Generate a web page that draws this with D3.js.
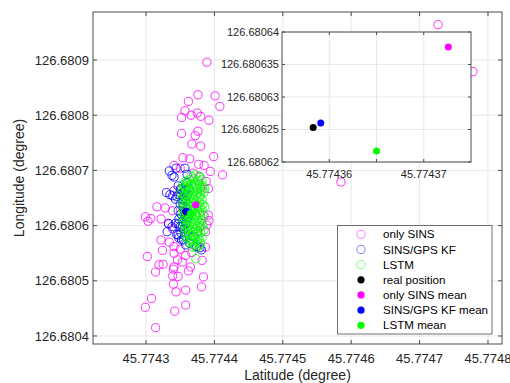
<!DOCTYPE html>
<html>
<head>
<meta charset="utf-8">
<script src="https://cdn.jsdelivr.net/npm/d3@7"></script>
<style>
  body { margin: 0; background: #fff; }
  svg { font-family: "Liberation Sans", Arial, sans-serif; }
</style>
</head>
<body>
<div id="chart"></div>
<script>
// only SINS position estimates [latitude, longitude]
const onlySINS = [
  [45.774389,126.680896],[45.774376,126.680837],[45.774401,126.680835],[45.774362,126.680825],
  [45.774408,126.680816],[45.774357,126.680808],[45.774375,126.680804],[45.774366,126.680800],
  [45.774380,126.680798],[45.774352,126.680796],[45.774392,126.680791],[45.774376,126.680771],
  [45.774352,126.680767],[45.774372,126.680763],[45.774367,126.680748],[45.774380,126.680744],
  [45.774399,126.680725],[45.774354,126.680723],[45.774364,126.680721],[45.774377,126.680711],
  [45.774385,126.680709],[45.774341,126.680709],[45.774394,126.680698],[45.774412,126.680692],
  [45.774350,126.680704],[45.774378,126.680689],[45.774388,126.680680],[45.774391,126.680667],
  [45.774341,126.680663],[45.774316,126.680634],[45.774328,126.680632],[45.774339,126.680627],
  [45.774303,126.680608],[45.774307,126.680613],[45.774322,126.680612],[45.774333,126.680603],
  [45.774339,126.680594],[45.774389,126.680601],[45.774392,126.680609],[45.774391,126.680619],
  [45.774385,126.680618],[45.774387,126.680589],[45.774322,126.680574],[45.774334,126.680570],
  [45.774324,126.680555],[45.774341,126.680562],[45.774350,126.680557],[45.774341,126.680550],
  [45.774358,126.680546],[45.774346,126.680538],[45.774367,126.680551],[45.774387,126.680561],
  [45.774302,126.680544],[45.774319,126.680529],[45.774325,126.680530],[45.774314,126.680516],
  [45.774341,126.680525],[45.774340,126.680521],[45.774365,126.680525],[45.774362,126.680518],
  [45.774347,126.680508],[45.774339,126.680509],[45.774382,126.680537],[45.774384,126.680507],
  [45.774381,126.680489],[45.774340,126.680494],[45.774344,126.680480],[45.774358,126.680483],
  [45.774308,126.680468],[45.774299,126.680452],[45.774358,126.680456],[45.774342,126.680445],
  [45.774314,126.680415],[45.774353,126.680534],[45.774369,126.680695],[45.774380,126.680668],
  [45.774299,126.680616],[45.774354,126.680647],[45.774376,126.680589],[45.774727,126.680964],
  [45.774585,126.680679],[45.774778,126.680879]
];

// SINS/GPS KF estimates
const sinsGpsKF = [
  [45.774334,126.680699],[45.774344,126.680704],[45.774338,126.680691],[45.774341,126.680688],
  [45.774357,126.680704],[45.774360,126.680693],[45.774360,126.680678],[45.774330,126.680660],
  [45.774335,126.680656],[45.774345,126.680653],[45.774339,126.680654],[45.774343,126.680648],
  [45.774331,126.680589],[45.774345,126.680584],[45.774358,126.680565],[45.774379,126.680560],
  [45.774352,126.680574],[45.774343,126.680604],[45.774369,126.680580],[45.774362,126.680668],
  [45.774347,126.680583],[45.774355,126.680574],[45.774374,126.680562],[45.774333,126.680604],
  [45.774338,126.680598],[45.774364,126.680568],[45.774381,126.680556],
  [45.774347,126.680672],[45.774351,126.680667],[45.774356,126.680661],[45.774348,126.680656],
  [45.774353,126.680648],[45.774358,126.680645],[45.774350,126.680639],[45.774354,126.680634],
  [45.774360,126.680630],[45.774347,126.680627],[45.774351,126.680621],[45.774357,126.680618],
  [45.774361,126.680614],[45.774348,126.680612],[45.774353,126.680607],[45.774358,126.680603],
  [45.774350,126.680598],[45.774356,126.680594],[45.774361,126.680590],[45.774351,126.680587],
  [45.774357,126.680581],[45.774348,126.680578],[45.774354,126.680641],[45.774360,126.680654],
  [45.774350,126.680665],[45.774356,126.680625],[45.774347,126.680603],[45.774363,126.680621],
  [45.774358,126.680665],[45.774353,126.680599]
];

// LSTM estimates
const lstm = [
  [45.774366,126.680690],[45.774373,126.680692],[45.774379,126.680688],[45.774358,126.680681],
  [45.774364,126.680683],[45.774370,126.680685],[45.774376,126.680681],[45.774382,126.680683],
  [45.774354,126.680674],[45.774360,126.680676],[45.774366,126.680677],[45.774372,126.680674],
  [45.774378,126.680676],[45.774383,126.680672],[45.774353,126.680667],[45.774358,126.680668],
  [45.774364,126.680665],[45.774370,126.680668],[45.774376,126.680667],[45.774382,126.680665],
  [45.774386,126.680668],[45.774351,126.680659],[45.774357,126.680657],[45.774363,126.680661],
  [45.774369,126.680657],[45.774375,126.680659],[45.774380,126.680656],[45.774385,126.680661],
  [45.774353,126.680650],[45.774358,126.680648],[45.774364,126.680652],[45.774370,126.680648],
  [45.774376,126.680650],[45.774382,126.680647],[45.774354,126.680641],[45.774360,126.680639],
  [45.774366,126.680643],[45.774372,126.680639],[45.774378,126.680641],[45.774383,126.680638],
  [45.774353,126.680632],[45.774358,126.680630],[45.774364,126.680634],[45.774370,126.680630],
  [45.774376,126.680632],[45.774382,126.680628],[45.774386,126.680634],[45.774354,126.680623],
  [45.774360,126.680621],[45.774366,126.680625],[45.774372,126.680621],[45.774378,126.680623],
  [45.774383,126.680619],[45.774353,126.680614],[45.774358,126.680612],[45.774364,126.680616],
  [45.774370,126.680612],[45.774376,126.680614],[45.774382,126.680610],[45.774354,126.680605],
  [45.774360,126.680603],[45.774366,126.680607],[45.774372,126.680603],[45.774378,126.680605],
  [45.774383,126.680601],[45.774356,126.680596],[45.774361,126.680594],[45.774367,126.680598],
  [45.774373,126.680594],[45.774379,126.680596],[45.774385,126.680592],[45.774357,126.680587],
  [45.774363,126.680585],[45.774369,126.680589],[45.774375,126.680585],[45.774380,126.680587],
  [45.774360,126.680578],[45.774366,126.680576],[45.774372,126.680580],[45.774378,126.680576],
  [45.774382,126.680578],[45.774363,126.680569],[45.774369,126.680567],[45.774375,126.680571],
  [45.774380,126.680567],[45.774367,126.680561],[45.774373,126.680560],[45.774373,126.680540],
  [45.774356,126.680670],[45.774361,126.680672],[45.774367,126.680674],[45.774373,126.680670],
  [45.774379,126.680672],[45.774356,126.680654],[45.774361,126.680656],[45.774367,126.680654],
  [45.774373,126.680654],[45.774379,126.680652],[45.774357,126.680636],[45.774363,126.680638],
  [45.774369,126.680636],[45.774375,126.680636],[45.774380,126.680634],[45.774356,126.680618],
  [45.774361,126.680619],[45.774367,126.680618],[45.774373,126.680618],[45.774379,126.680618],
  [45.774357,126.680599],[45.774363,126.680599],[45.774369,126.680601],[45.774375,126.680599],
  [45.774380,126.680599],[45.774358,126.680581],[45.774364,126.680581],[45.774370,126.680583],
  [45.774376,126.680581],[45.774366,126.680572],[45.774372,126.680565],[45.774378,126.680563]
];

const realPos = [45.7743583, 126.6806253];
const sinsMean = [45.7743726, 126.6806377];
const kfMean = [45.7743591, 126.6806260];
const lstmMean = [45.7743650, 126.6806217];

const mainXTicks = [45.7743, 45.7744, 45.7745, 45.7746, 45.7747, 45.7748];
const mainYTicks = [126.6804, 126.6805, 126.6806, 126.6807, 126.6808, 126.6809];
const insetXTicks = [45.77436, 45.774365, 45.77437];
const insetXLabels = ["45.77436", "", "45.77437"];
const insetYTicks = [126.68062, 126.680625, 126.68063, 126.680635, 126.68064];
const insetYLabels = ["126.68062", "126.680625", "126.68063", "126.680635", "126.68064"];

const legendItems = [
  { label: "only SINS", color: "#ff00ff", filled: false },
  { label: "SINS/GPS KF", color: "#0000ff", filled: false },
  { label: "LSTM", color: "#00ff00", filled: false },
  { label: "real position", color: "#000000", filled: true },
  { label: "only SINS mean", color: "#ff00ff", filled: true },
  { label: "SINS/GPS KF mean", color: "#0000ff", filled: true },
  { label: "LSTM mean", color: "#00ff00", filled: true }
];

const width = 510, height = 383;
const textColor = "#262626", axisColor = "#4d4d4d", gridColor = "#e8e8e8";

const svg = d3.select("#chart").append("svg")
  .attr("width", width).attr("height", height);

// main axes
const m = { left: 93, right: 502, top: 12, bottom: 344 };
const x = d3.scaleLinear().domain([45.7742225, 45.7748205]).range([m.left, m.right]);
const y = d3.scaleLinear().domain([126.6803855, 126.680987]).range([m.bottom, m.top]);

const grid = svg.append("g");
grid.selectAll("line.gx").data(mainXTicks).enter().append("line")
  .attr("x1", d => x(d)).attr("x2", d => x(d))
  .attr("y1", m.top).attr("y2", m.bottom)
  .attr("stroke", gridColor).attr("stroke-width", 1);
grid.selectAll("line.gy").data(mainYTicks).enter().append("line")
  .attr("x1", m.left).attr("x2", m.right)
  .attr("y1", d => y(d)).attr("y2", d => y(d))
  .attr("stroke", gridColor).attr("stroke-width", 1);

function drawFrame(g, xs, ys, box, xt, yt, tickLen) {
  g.append("rect")
    .attr("x", box.left).attr("y", box.top)
    .attr("width", box.right - box.left).attr("height", box.bottom - box.top)
    .attr("fill", "none").attr("stroke", axisColor).attr("stroke-width", 1);
  xt.forEach(t => {
    g.append("line").attr("x1", xs(t)).attr("x2", xs(t))
      .attr("y1", box.bottom).attr("y2", box.bottom - tickLen).attr("stroke", axisColor);
    g.append("line").attr("x1", xs(t)).attr("x2", xs(t))
      .attr("y1", box.top).attr("y2", box.top + tickLen).attr("stroke", axisColor);
  });
  yt.forEach(t => {
    g.append("line").attr("x1", box.left).attr("x2", box.left + tickLen)
      .attr("y1", ys(t)).attr("y2", ys(t)).attr("stroke", axisColor);
    g.append("line").attr("x1", box.right).attr("x2", box.right - tickLen)
      .attr("y1", ys(t)).attr("y2", ys(t)).attr("stroke", axisColor);
  });
}

const r = 4.1;
function openCircles(g, data, color, xs, ys) {
  g.selectAll(null).data(data).enter().append("circle")
    .attr("cx", d => xs(d[0])).attr("cy", d => ys(d[1]))
    .attr("r", r).attr("fill", "none")
    .attr("stroke", color).attr("stroke-width", 0.8);
}
function dot(g, p, color, xs, ys, rr) {
  g.append("circle").attr("cx", xs(p[0])).attr("cy", ys(p[1]))
    .attr("r", rr).attr("fill", color);
}

const plot = svg.append("g");
openCircles(plot, onlySINS, "#ff00ff", x, y);
openCircles(plot, sinsGpsKF, "#0000ff", x, y);
openCircles(plot, lstm, "#00ff00", x, y);
dot(plot, realPos, "#000000", x, y, 3.6);
dot(plot, sinsMean, "#ff00ff", x, y, 3.6);
dot(plot, kfMean, "#0000ff", x, y, 3.6);
dot(plot, lstmMean, "#00ff00", x, y, 3.6);

drawFrame(svg.append("g"), x, y, m, mainXTicks, mainYTicks, 4);

svg.append("g").selectAll("text").data(mainXTicks).enter().append("text")
  .attr("x", d => x(d)).attr("y", 363)
  .attr("text-anchor", "middle").attr("font-size", 13).attr("fill", textColor)
  .text(d => d3.format(".4f")(d));
svg.append("g").selectAll("text").data(mainYTicks).enter().append("text")
  .attr("x", 89).attr("y", d => y(d)).attr("dy", "0.35em")
  .attr("text-anchor", "end").attr("font-size", 13).attr("fill", textColor)
  .text(d => d3.format(".4f")(d));

svg.append("text").attr("x", (m.left + m.right) / 2).attr("y", 380)
  .attr("text-anchor", "middle").attr("font-size", 14).attr("fill", textColor)
  .text("Latitude (degree)");
svg.append("text")
  .attr("transform", `translate(24,${(m.top + m.bottom) / 2}) rotate(-90)`)
  .attr("text-anchor", "middle").attr("font-size", 14).attr("fill", textColor)
  .text("Longitude (degree)");

// inset (zoomed view of the means)
const n = { left: 282, right: 471, top: 32, bottom: 162 };
const xi = d3.scaleLinear().domain([45.774355, 45.774375]).range([n.left, n.right]);
const yi = d3.scaleLinear().domain([126.68062, 126.68064]).range([n.bottom, n.top]);
const inset = svg.append("g");
inset.append("rect").attr("x", n.left).attr("y", n.top)
  .attr("width", n.right - n.left).attr("height", n.bottom - n.top).attr("fill", "#fff");
inset.selectAll("line.gx").data(insetXTicks).enter().append("line")
  .attr("x1", d => xi(d)).attr("x2", d => xi(d))
  .attr("y1", n.top).attr("y2", n.bottom).attr("stroke", gridColor);
inset.selectAll("line.gy").data(insetYTicks).enter().append("line")
  .attr("x1", n.left).attr("x2", n.right)
  .attr("y1", d => yi(d)).attr("y2", d => yi(d)).attr("stroke", gridColor);
dot(inset, realPos, "#000000", xi, yi, 3.5);
dot(inset, sinsMean, "#ff00ff", xi, yi, 3.5);
dot(inset, kfMean, "#0000ff", xi, yi, 3.5);
dot(inset, lstmMean, "#00ff00", xi, yi, 3.5);
drawFrame(inset, xi, yi, n, insetXTicks, insetYTicks, 3);
inset.selectAll("text.xl").data(insetXTicks).enter().append("text")
  .attr("x", d => xi(d)).attr("y", 177.5)
  .attr("text-anchor", "middle").attr("font-size", 11).attr("fill", textColor)
  .text((d, i) => insetXLabels[i]);
inset.selectAll("text.yl").data(insetYTicks).enter().append("text")
  .attr("x", 279).attr("y", d => yi(d)).attr("dy", "0.35em")
  .attr("text-anchor", "end").attr("font-size", 11).attr("fill", textColor)
  .text((d, i) => insetYLabels[i]);

// legend
const lg = svg.append("g");
lg.append("rect").attr("x", 337.5).attr("y", 225.5).attr("width", 154.5).attr("height", 108.5)
  .attr("fill", "#fff").attr("stroke", axisColor).attr("stroke-width", 0.8);
const rowY = d3.scalePoint().domain(d3.range(legendItems.length)).range([234.3, 325.3]);
legendItems.forEach((d, i) => {
  const cy = rowY(i);
  if (d.filled) {
    lg.append("circle").attr("cx", 361).attr("cy", cy).attr("r", 3.6).attr("fill", d.color);
  } else {
    lg.append("circle").attr("cx", 361).attr("cy", cy).attr("r", 4.1)
      .attr("fill", "none").attr("stroke", d.color).attr("stroke-width", 0.7).attr("stroke-opacity", 0.7);
  }
  lg.append("text").attr("x", 383).attr("y", cy).attr("dy", "0.35em")
    .attr("font-size", 11.6).attr("fill", "#000").text(d.label);
});
</script>
</body>
</html>
